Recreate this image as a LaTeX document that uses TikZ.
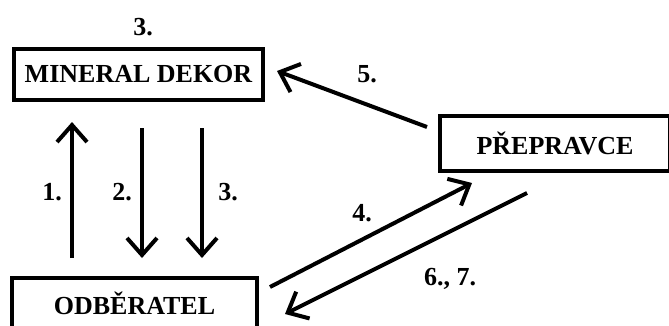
\documentclass[tikz,border=0pt]{standalone}
\usepackage{fontspec}
\setmainfont{Liberation Serif}
\usepackage{tikz}
\usetikzlibrary{arrows.meta, calc, positioning}

\tikzset{
  party/.style={draw, line width=4pt, inner sep=0pt, minimum height=51pt,
                font=\fontsize{26}{30}\selectfont\bfseries},
  stage/.style={inner sep=0pt, text depth=0pt,
                font=\fontsize{26}{30}\selectfont\bfseries},
  flow/.style={line width=4pt, -{Straight Barb[length=17pt, width=30pt]}}
}

\begin{document}
\begin{tikzpicture}[x=1pt, y=-1pt]
\useasboundingbox (0,0) rectangle (669,325);
%
\node[party, minimum width=249pt] (md)  at (138.5,74.5) {MINERAL DEKOR};
\node[party, minimum width=245pt] (odb) at (134.5,303.5) {ODBĚRATEL};
\node[party, minimum width=230pt, minimum height=55pt] (pre) at (555,143.5) {PŘEPRAVCE};

\node[stage] (s3top) at (143,27)  {3.};
\node[stage] (s1)    at (52,192)  {1.};
\node[stage] (s2)    at (122,192) {2.};
\node[stage] (s3)    at (228,192) {3.};
\node[stage] (s5)    at (367,74)  {5.};
\node[stage] (s4)    at (362,213) {4.};
\node[stage] (s67)   at (450,277) {6., 7.};

% odberatel <-> mineral dekor
\draw[flow] ($(odb.north)+(-62.5,-18)$) -- ($(md.south)+(-66.5,20)$);
\draw[flow] ($(md.south)+(3.5,26)$)   -- ($(odb.north)+(7.5,-18)$);
\draw[flow] ($(md.south)+(63.5,26)$)  -- ($(odb.north)+(67.5,-18)$);
% prepravce
\draw[flow] ($(pre.north west)+(-11,13)$) -- ($(md.east)+(12,-3.5)$);
\draw[flow] ($(odb.north east)+(11,11)$) -- ($(pre.south west)+(34,10)$);
\draw[flow] ($(pre.south)+(-28,20)$) -- ($(odb.east)+(26,10.5)$);
%
\end{tikzpicture}
\end{document}
